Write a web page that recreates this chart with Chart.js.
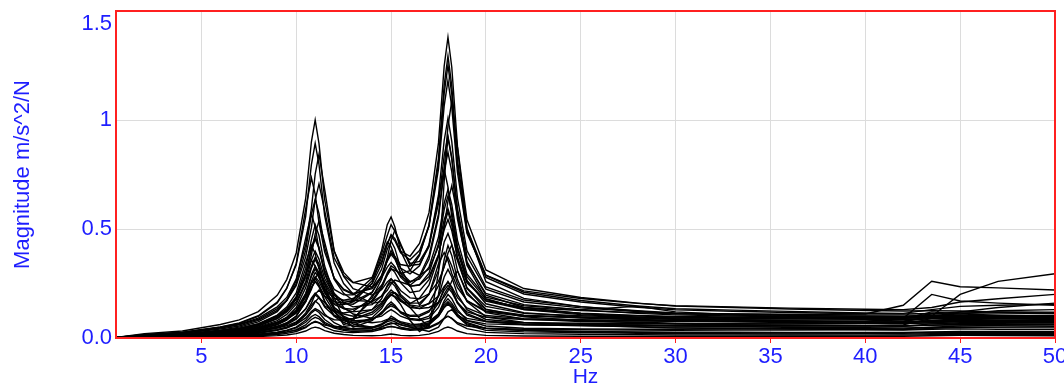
<!DOCTYPE html>
<html>
<head>
<meta charset="utf-8">
<script src="https://cdn.jsdelivr.net/npm/chart.js@4.4.1/dist/chart.umd.min.js"></script>
<style>
  html, body { margin: 0; padding: 0; background: #ffffff; }
  #wrap { width: 1064px; height: 390px; }
</style>
</head>
<body>
<div id="wrap"><canvas id="frfChart" width="1064" height="390"></canvas></div>
<script>
// frequency points (Hz) shared by every measured FRF
var freqHz = [0.5, 2, 4, 6, 7, 8, 9, 9.5, 10, 10.5, 10.8, 11, 11.2, 11.5, 12, 12.5, 13, 14, 14.5, 14.8, 15, 15.2, 15.5, 16, 16.5, 17, 17.5, 17.8, 18, 18.2, 18.5, 19, 20, 22, 25, 28, 30, 33, 36, 40, 42, 43.5, 45, 47, 50];

// magnitude m/s^2/N of each FRF
var frf01 = [0.003,0.02,0.032,0.062,0.083,0.121,0.196,0.268,0.39,0.64,0.9,1.0,0.893,0.635,0.399,0.301,0.255,0.234,0.276,0.325,0.347,0.327,0.279,0.237,0.243,0.282,0.382,0.497,0.544,0.493,0.369,0.253,0.171,0.14,0.126,0.116,0.112,0.11,0.108,0.105,0.105,0.104,0.104,0.103,0.103];
var frf02 = [0.003,0.014,0.024,0.048,0.063,0.091,0.143,0.186,0.27,0.429,0.595,0.752,0.843,0.682,0.4,0.283,0.226,0.197,0.221,0.257,0.272,0.255,0.218,0.184,0.18,0.203,0.26,0.325,0.39,0.426,0.354,0.23,0.145,0.113,0.102,0.095,0.092,0.09,0.088,0.086,0.084,0.088,0.09,0.092,0.094];
var frf03 = [0.003,0.015,0.025,0.05,0.067,0.099,0.161,0.227,0.342,0.592,0.735,0.66,0.529,0.394,0.276,0.224,0.204,0.226,0.286,0.353,0.384,0.362,0.302,0.259,0.27,0.325,0.462,0.618,0.681,0.613,0.449,0.294,0.187,0.148,0.13,0.145,0.12,0.107,0.104,0.1,0.098,0.1,0.102,0.1,0.1];
var frf04 = [0.002,0.012,0.021,0.041,0.055,0.081,0.127,0.172,0.248,0.403,0.567,0.635,0.572,0.415,0.273,0.22,0.2,0.232,0.315,0.407,0.445,0.411,0.321,0.241,0.15,0.2,0.34,0.392,0.355,0.296,0.231,0.172,0.124,0.104,0.094,0.089,0.086,0.084,0.083,0.082,0.078,0.09,0.085,0.083,0.08];
var frf05 = [0.003,0.009,0.016,0.033,0.044,0.064,0.099,0.127,0.18,0.279,0.38,0.478,0.536,0.439,0.27,0.205,0.173,0.167,0.192,0.219,0.248,0.266,0.257,0.242,0.277,0.361,0.553,0.766,0.852,0.763,0.545,0.343,0.204,0.153,0.129,0.113,0.106,0.101,0.097,0.093,0.093,0.1,0.1,0.098,0.097];
var frf06 = [0.002,0.009,0.016,0.034,0.045,0.065,0.101,0.134,0.187,0.294,0.405,0.453,0.412,0.311,0.223,0.198,0.198,0.275,0.401,0.52,0.555,0.51,0.4,0.309,0.287,0.316,0.419,0.543,0.593,0.536,0.396,0.262,0.169,0.131,0.114,0.104,0.099,0.096,0.093,0.091,0.09,0.092,0.095,0.094,0.092];
var frf07 = [0.002,0.008,0.013,0.031,0.041,0.061,0.096,0.128,0.18,0.294,0.358,0.33,0.277,0.224,0.182,0.174,0.181,0.249,0.339,0.43,0.475,0.456,0.399,0.375,0.434,0.575,0.895,1.247,1.38,1.243,0.88,0.542,0.312,0.227,0.186,0.16,0.146,0.14,0.133,0.126,0.124,0.125,0.124,0.12,0.118];
var frf08 = [0.002,0.006,0.009,0.023,0.032,0.045,0.07,0.088,0.117,0.175,0.233,0.259,0.24,0.193,0.157,0.153,0.166,0.251,0.371,0.441,0.419,0.374,0.337,0.329,0.385,0.513,0.804,1.122,1.252,1.119,0.792,0.488,0.278,0.202,0.165,0.141,0.129,0.123,0.117,0.111,0.11,0.113,0.115,0.114,0.112];
var frf09 = [0.001,0.005,0.008,0.018,0.023,0.036,0.054,0.068,0.09,0.133,0.177,0.197,0.184,0.148,0.12,0.07,0.09,0.173,0.236,0.299,0.331,0.319,0.285,0.255,0.284,0.378,0.568,0.774,0.972,1.086,0.873,0.503,0.258,0.182,0.144,0.123,0.112,0.105,0.099,0.093,0.092,0.094,0.092,0.09,0.09];
var frf10 = [0.001,0.003,0.005,0.013,0.017,0.025,0.038,0.048,0.063,0.092,0.121,0.135,0.126,0.103,0.084,0.082,0.088,0.118,0.155,0.19,0.209,0.207,0.178,0.14,0.09,0.05,0.3,0.72,0.92,0.821,0.577,0.35,0.196,0.14,0.113,0.095,0.086,0.082,0.077,0.073,0.07,0.075,0.078,0.076,0.075];
var frf11 = [0.002,0.007,0.011,0.024,0.032,0.044,0.068,0.085,0.114,0.168,0.222,0.273,0.302,0.259,0.183,0.158,0.155,0.208,0.286,0.368,0.446,0.495,0.433,0.333,0.338,0.419,0.644,0.775,0.692,0.557,0.414,0.281,0.177,0.134,0.111,0.101,0.096,0.091,0.091,0.088,0.088,0.12,0.11,0.105,0.1];
var frf12 = [0.001,0.009,0.015,0.028,0.038,0.055,0.089,0.122,0.178,0.292,0.415,0.465,0.417,0.295,0.185,0.09,0.05,0.08,0.119,0.137,0.147,0.139,0.12,0.104,0.106,0.125,0.165,0.219,0.242,0.22,0.165,0.112,0.077,0.062,0.056,0.052,0.05,0.05,0.049,0.047,0.046,0.048,0.05,0.05,0.05];
var frf13 = [0.001,0.003,0.005,0.009,0.012,0.017,0.027,0.036,0.05,0.081,0.115,0.129,0.117,0.085,0.055,0.046,0.043,0.049,0.065,0.081,0.089,0.083,0.069,0.059,0.064,0.077,0.11,0.15,0.166,0.15,0.109,0.071,0.043,0.034,0.029,0.026,0.024,0.024,0.023,0.022,0.022,0.025,0.026,0.025,0.025];
var frf14 = [0.001,0.002,0.003,0.005,0.007,0.01,0.016,0.021,0.03,0.048,0.068,0.077,0.07,0.051,0.033,0.027,0.025,0.03,0.04,0.05,0.054,0.05,0.042,0.035,0.038,0.046,0.066,0.09,0.1,0.09,0.065,0.043,0.026,0.02,0.017,0.015,0.014,0.014,0.014,0.013,0.013,0.015,0.016,0.015,0.015];
var frf15 = [0.002,0.008,0.014,0.03,0.04,0.058,0.09,0.119,0.165,0.258,0.357,0.398,0.362,0.273,0.196,0.171,0.167,0.21,0.281,0.355,0.39,0.371,0.321,0.294,0.331,0.429,0.655,0.906,1.008,0.902,0.642,0.401,0.234,0.174,0.144,0.125,0.115,0.11,0.108,0.11,0.15,0.26,0.235,0.23,0.22];
var frf16 = [0.002,0.011,0.019,0.036,0.05,0.074,0.121,0.173,0.263,0.458,0.57,0.511,0.406,0.299,0.205,0.163,0.143,0.153,0.193,0.237,0.257,0.238,0.192,0.148,0.135,0.14,0.162,0.189,0.216,0.261,0.308,0.21,0.116,0.087,0.076,0.072,0.068,0.066,0.065,0.068,0.075,0.1,0.2,0.26,0.295];
var frf17 = [0.002,0.004,0.007,0.015,0.021,0.031,0.047,0.062,0.086,0.134,0.183,0.206,0.188,0.142,0.102,0.09,0.088,0.108,0.145,0.181,0.199,0.191,0.168,0.158,0.183,0.242,0.373,0.52,0.579,0.518,0.367,0.228,0.132,0.097,0.081,0.07,0.064,0.061,0.059,0.056,0.06,0.09,0.12,0.14,0.16];
var frf18 = [0.003,0.012,0.021,0.046,0.061,0.086,0.135,0.172,0.241,0.372,0.506,0.633,0.707,0.584,0.368,0.286,0.254,0.278,0.351,0.431,0.469,0.446,0.391,0.359,0.401,0.514,0.775,1.065,1.182,1.06,0.76,0.48,0.288,0.216,0.181,0.159,0.148,0.143,0.137,0.132,0.13,0.14,0.165,0.18,0.2];
var frf19 = [0.001,0.002,0.003,0.008,0.01,0.016,0.022,0.028,0.036,0.051,0.067,0.073,0.07,0.059,0.052,0.053,0.059,0.093,0.135,0.179,0.199,0.187,0.154,0.08,0.03,0.06,0.2,0.36,0.424,0.379,0.269,0.167,0.097,0.071,0.058,0.05,0.046,0.043,0.041,0.039,0.039,0.044,0.048,0.05,0.052];
var frf20 = [0.001,0.006,0.01,0.023,0.031,0.046,0.071,0.093,0.13,0.205,0.282,0.317,0.288,0.217,0.154,0.135,0.132,0.166,0.227,0.29,0.32,0.301,0.254,0.209,0.216,0.268,0.38,0.506,0.628,0.698,0.564,0.334,0.18,0.131,0.107,0.094,0.087,0.083,0.079,0.076,0.09,0.2,0.17,0.16,0.15];
var frf21 = [0.003,0.016,0.027,0.051,0.069,0.102,0.165,0.229,0.336,0.558,0.795,0.893,0.797,0.561,0.344,0.25,0.202,0.159,0.167,0.18,0.197,0.208,0.189,0.152,0.145,0.157,0.193,0.237,0.256,0.235,0.185,0.138,0.103,0.089,0.084,0.08,0.078,0.077,0.076,0.075,0.074,0.078,0.08,0.08,0.082];
var frf22 = [0.002,0.009,0.014,0.033,0.043,0.065,0.105,0.142,0.207,0.346,0.425,0.387,0.317,0.247,0.13,0.06,0.08,0.194,0.242,0.288,0.315,0.311,0.296,0.309,0.379,0.52,0.824,1.16,1.294,1.157,0.817,0.502,0.287,0.21,0.172,0.147,0.134,0.128,0.122,0.115,0.113,0.13,0.145,0.15,0.155];
var frf23 = [0.002,0.007,0.012,0.025,0.034,0.048,0.073,0.094,0.125,0.188,0.252,0.281,0.26,0.207,0.166,0.161,0.174,0.263,0.387,0.47,0.52,0.49,0.425,0.342,0.351,0.424,0.617,0.837,0.925,0.83,0.595,0.376,0.224,0.165,0.138,0.121,0.112,0.108,0.104,0.099,0.098,0.105,0.11,0.125,0.13];
var frf24 = [0.001,0.004,0.008,0.017,0.022,0.031,0.046,0.056,0.074,0.107,0.137,0.167,0.185,0.162,0.122,0.115,0.122,0.183,0.269,0.36,0.401,0.371,0.296,0.238,0.244,0.297,0.433,0.589,0.652,0.584,0.419,0.264,0.157,0.116,0.097,0.084,0.078,0.074,0.071,0.068,0.067,0.07,0.075,0.074,0.072];
var frf25 = [0.001,0.002,0.004,0.008,0.011,0.016,0.025,0.033,0.046,0.072,0.098,0.108,0.098,0.072,0.05,0.04,0.036,0.038,0.045,0.05,0.052,0.05,0.045,0.04,0.042,0.05,0.07,0.09,0.1,0.09,0.07,0.055,0.045,0.04,0.038,0.036,0.035,0.036,0.037,0.038,0.036,0.04,0.042,0.04,0.04];
var frf26 = [0.002,0.006,0.011,0.022,0.03,0.044,0.07,0.095,0.14,0.23,0.32,0.36,0.325,0.23,0.14,0.1,0.08,0.07,0.075,0.085,0.09,0.085,0.075,0.065,0.06,0.07,0.11,0.16,0.18,0.16,0.12,0.09,0.075,0.07,0.068,0.066,0.065,0.064,0.065,0.066,0.065,0.07,0.068,0.066,0.065];
var frf27 = [0.001,0.003,0.006,0.012,0.016,0.024,0.038,0.05,0.07,0.115,0.16,0.2,0.22,0.19,0.12,0.085,0.065,0.05,0.052,0.06,0.065,0.068,0.062,0.05,0.04,0.03,0.05,0.09,0.12,0.13,0.1,0.065,0.045,0.035,0.03,0.028,0.027,0.027,0.026,0.026,0.025,0.028,0.03,0.03,0.03];
var frf28 = [0.001,0.004,0.007,0.015,0.02,0.03,0.048,0.065,0.1,0.17,0.25,0.275,0.245,0.17,0.1,0.07,0.055,0.05,0.06,0.08,0.1,0.09,0.07,0.055,0.055,0.065,0.1,0.14,0.155,0.14,0.105,0.08,0.065,0.06,0.058,0.057,0.056,0.056,0.055,0.055,0.055,0.06,0.062,0.06,0.06];
var frf29 = [0.002,0.007,0.013,0.026,0.035,0.051,0.08,0.108,0.155,0.25,0.33,0.37,0.34,0.25,0.17,0.135,0.12,0.13,0.16,0.2,0.22,0.205,0.17,0.14,0.135,0.16,0.24,0.33,0.37,0.33,0.25,0.17,0.12,0.1,0.095,0.093,0.092,0.093,0.095,0.097,0.095,0.11,0.12,0.118,0.115];
var frf30 = [0.001,0.005,0.009,0.019,0.026,0.038,0.06,0.082,0.12,0.2,0.29,0.33,0.3,0.21,0.13,0.095,0.078,0.085,0.11,0.14,0.155,0.145,0.12,0.1,0.1,0.12,0.19,0.28,0.315,0.28,0.2,0.13,0.085,0.07,0.063,0.06,0.058,0.057,0.057,0.056,0.055,0.058,0.06,0.062,0.062];
var frf31 = [0,0.001,0.002,0.004,0.005,0.007,0.011,0.014,0.02,0.032,0.045,0.05,0.046,0.034,0.022,0.016,0.012,0.01,0.012,0.016,0.018,0.016,0.012,0.01,0.012,0.018,0.03,0.045,0.05,0.045,0.032,0.02,0.012,0.009,0.008,0.007,0.007,0.007,0.008,0.008,0.008,0.01,0.012,0.011,0.01];
var frf32 = [0.001,0.004,0.008,0.016,0.022,0.032,0.052,0.07,0.1,0.165,0.23,0.26,0.235,0.165,0.105,0.08,0.07,0.085,0.115,0.15,0.165,0.15,0.115,0.09,0.085,0.1,0.16,0.23,0.26,0.23,0.16,0.105,0.075,0.062,0.058,0.06,0.055,0.052,0.056,0.058,0.054,0.065,0.07,0.072,0.07];
var frf33 = [0.001,0.003,0.005,0.011,0.015,0.022,0.035,0.046,0.065,0.105,0.15,0.17,0.155,0.11,0.07,0.05,0.04,0.045,0.06,0.075,0.08,0.075,0.06,0.05,0.05,0.065,0.11,0.17,0.2,0.18,0.13,0.08,0.055,0.045,0.042,0.04,0.04,0.041,0.043,0.044,0.042,0.05,0.055,0.058,0.06];
var frf34 = [0.002,0.008,0.014,0.028,0.038,0.056,0.09,0.125,0.19,0.32,0.45,0.52,0.47,0.33,0.2,0.14,0.11,0.09,0.1,0.12,0.13,0.12,0.1,0.085,0.08,0.09,0.14,0.2,0.23,0.21,0.16,0.12,0.095,0.085,0.08,0.078,0.077,0.075,0.074,0.073,0.072,0.078,0.08,0.082,0.085];
var frf35 = [0.001,0.002,0.003,0.006,0.008,0.012,0.02,0.027,0.038,0.06,0.085,0.095,0.088,0.065,0.045,0.035,0.03,0.035,0.05,0.065,0.07,0.065,0.05,0.04,0.045,0.06,0.1,0.14,0.16,0.14,0.1,0.06,0.035,0.028,0.025,0.022,0.02,0.02,0.019,0.019,0.018,0.02,0.022,0.021,0.02];
var frf36 = [0.002,0.005,0.01,0.02,0.027,0.04,0.063,0.085,0.12,0.19,0.26,0.3,0.28,0.21,0.14,0.11,0.1,0.13,0.18,0.24,0.27,0.25,0.2,0.16,0.16,0.2,0.31,0.44,0.48,0.43,0.31,0.2,0.13,0.105,0.092,0.085,0.08,0.078,0.076,0.074,0.073,0.08,0.088,0.09,0.09];

// axis ticks
var xTickValues = [5, 10, 15, 20, 25, 30, 35, 40, 45, 50];
var yTickValues = [0, 0.5, 1, 1.5];
var yTickLabels = ["0.0", "0.5", "1", "1.5"];

var allCurves = [frf01, frf02, frf03, frf04, frf05, frf06, frf07, frf08, frf09, frf10,
  frf11, frf12, frf13, frf14, frf15, frf16, frf17, frf18, frf19, frf20,
  frf21, frf22, frf23, frf24, frf25, frf26, frf27, frf28, frf29, frf30,
  frf31, frf32, frf33, frf34, frf35, frf36];

var tickBlue = "#1e1eff";
var axisFont = "'Liberation Sans', Arial, sans-serif";

function toPoints(curve) {
  var pts = [];
  for (var i = 0; i < freqHz.length; i++) {
    pts.push({x: freqHz[i], y: curve[i]});
  }
  return pts;
}

var datasets = [];
for (var i = 0; i < allCurves.length; i++) {
  datasets.push({
    data: toPoints(allCurves[i]),
    borderColor: "#000000",
    borderWidth: 1.4,
    pointRadius: 0,
    tension: 0,
    fill: false
  });
}

// red frame round the plot area
var redFrame = {
  id: "redFrame",
  afterDatasetsDraw: function(chart) {
    var a = chart.chartArea;
    var ctx = chart.ctx;
    ctx.save();
    ctx.strokeStyle = "#ff2020";
    ctx.lineWidth = 2;
    ctx.strokeRect(a.left, a.top, a.right - a.left, a.bottom - a.top);
    ctx.restore();
  }
};

var config = {
  type: "line",
  data: { datasets: datasets },
  options: {
    responsive: false,
    animation: false,
    events: [],
    layout: { padding: { top: 11, right: 9, left: 0, bottom: 0 } },
    plugins: {
      legend: { display: false },
      tooltip: { enabled: false }
    },
    scales: {
      x: {
        type: "linear",
        min: 0.5,
        max: 50,
        afterBuildTicks: function(scale) {
          scale.ticks = xTickValues.map(function(v) { return {value: v}; });
        },
        afterFit: function(scale) {
          scale.height = 52;
          scale.paddingLeft = 0;
          scale.paddingRight = 0;
        },
        border: { display: false },
        grid: { color: "#dcdcdc", lineWidth: 1, tickColor: "#ff2020", tickLength: 5 },
        ticks: {
          color: tickBlue,
          padding: 1,
          maxRotation: 0,
          font: { family: axisFont, size: 22 }
        },
        title: {
          display: true,
          text: "Hz",
          color: tickBlue,
          padding: 0,
          font: { family: axisFont, size: 21 }
        }
      },
      y: {
        min: 0,
        max: 1.5,
        afterBuildTicks: function(scale) {
          scale.ticks = yTickValues.map(function(v) { return {value: v}; });
        },
        afterFit: function(scale) {
          scale.width = 116;
          scale.paddingTop = 0;
          scale.paddingBottom = 0;
        },
        border: { display: false },
        grid: { color: "#dcdcdc", lineWidth: 1, drawTicks: false },
        ticks: {
          color: tickBlue,
          padding: 4,
          font: { family: axisFont, size: 22 },
          callback: function(value, index) {
            var label = yTickLabels[index];
            // top label sits just under the frame corner
            if (index == yTickLabels.length - 1) return ["", label];
            return label;
          }
        },
        title: {
          display: true,
          text: "Magnitude m/s^2/N",
          color: tickBlue,
          padding: { top: 10, bottom: 0 },
          font: { family: axisFont, size: 22 }
        }
      }
    }
  },
  plugins: [redFrame]
};

var frfChart = new Chart(document.getElementById("frfChart"), config);
</script>
</body>
</html>
